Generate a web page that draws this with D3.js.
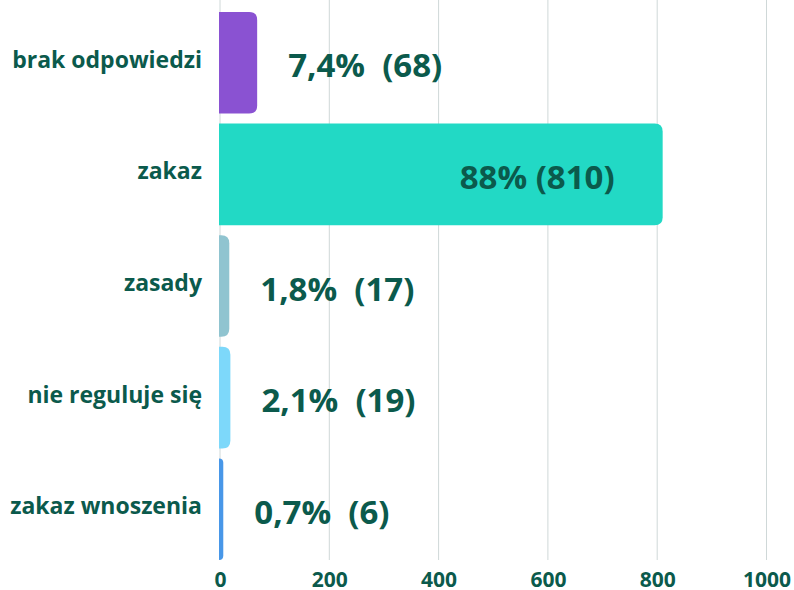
<!DOCTYPE html>
<html>
<head>
<meta charset="utf-8">
<script src="https://cdn.jsdelivr.net/npm/d3@7"></script>
<style>
  body { margin: 0; background: #fff; }
  text { font-family: "Open Sans", sans-serif; font-weight: 700; fill: #0b5a4c; }
</style>
</head>
<body>
<svg id="chart"></svg>
<script>
// chart data
const categories = ['brak odpowiedzi', 'zakaz', 'zasady', 'nie reguluje się', 'zakaz wnoszenia'];
const counts = [68, 810, 17, 19, 6];
const valueLabels = ['7,4%  (68)', '88% (810)', '1,8%  (17)', '2,1%  (19)', '0,7%  (6)'];
const barColors = ['#8a52d2', '#22d9c5', '#90c4d0', '#7dd8fa', '#4897e8'];
const xTicks = [0, 200, 400, 600, 800, 1000];

const width = 794, height = 590;
const margin = {top: 12, right: 27, bottom: 30, left: 220};

const svg = d3.select('#chart')
    .attr('width', width)
    .attr('height', height);

const data = categories.map((c, i) => ({cat: c, count: counts[i], label: valueLabels[i], color: barColors[i]}));

const xScale = d3.scaleLinear()
    .domain([0, 1000])
    .range([margin.left, 766.5]);

const yScale = d3.scaleBand()
    .domain(categories)
    .range([margin.top, 560])
    .paddingInner(0.09)
    .paddingOuter(0);

// vertical gridlines
svg.append('g')
  .selectAll('line')
  .data(xTicks)
  .join('line')
    .attr('x1', d => xScale(d))
    .attr('x2', d => xScale(d))
    .attr('y1', 0)
    .attr('y2', 560)
    .attr('stroke', '#cfd8d8')
    .attr('stroke-width', 1);

// bar with rounded right corners only
function barPath(x0, y0, w, h, r) {
  r = Math.min(r, w, h / 2);
  return `M${x0},${y0} H${x0 + w - r} Q${x0 + w},${y0} ${x0 + w},${y0 + r} ` +
         `V${y0 + h - r} Q${x0 + w},${y0 + h} ${x0 + w - r},${y0 + h} H${x0} Z`;
}

svg.append('g')
  .selectAll('path')
  .data(data)
  .join('path')
    .attr('d', d => barPath(xScale(0) - 1, yScale(d.cat), xScale(d.count) - xScale(0) + 1, yScale.bandwidth(), 8))
    .attr('fill', d => d.color);

// value labels
svg.append('g')
  .selectAll('text')
  .data(data)
  .join('text')
    .attr('x', d => d.count > 500 ? xScale(d.count) - 48 : xScale(d.count) + 31)
    .attr('y', d => yScale(d.cat) + yScale.bandwidth() / 2)
    .attr('dy', '0.44em')
    .attr('text-anchor', d => d.count > 500 ? 'end' : 'start')
    .style('font-size', '33px')
    .style('white-space', 'pre')
    .attr('xml:space', 'preserve')
    .text(d => d.label);

// category axis
const yAxis = d3.axisLeft(yScale).tickSize(0).tickPadding(18);
const yAxisG = svg.append('g')
    .attr('transform', `translate(${margin.left},0)`)
    .call(yAxis);
yAxisG.select('.domain').remove();
yAxisG.selectAll('text')
    .attr('dy', '0.22em')
    .style('font-size', '23px')
    .style('font-family', '"Open Sans", sans-serif')
    .attr('fill', '#0b5a4c');

// value axis
const xAxis = d3.axisBottom(xScale).tickValues(xTicks).tickFormat(d3.format('d')).tickSize(0).tickPadding(10);
const xAxisG = svg.append('g')
    .attr('transform', 'translate(0,562)')
    .call(xAxis);
xAxisG.select('.domain').remove();
xAxisG.selectAll('text')
    .style('font-size', '21px')
    .style('font-family', '"Open Sans", sans-serif')
    .attr('fill', '#0b5a4c');
</script>
</body>
</html>
